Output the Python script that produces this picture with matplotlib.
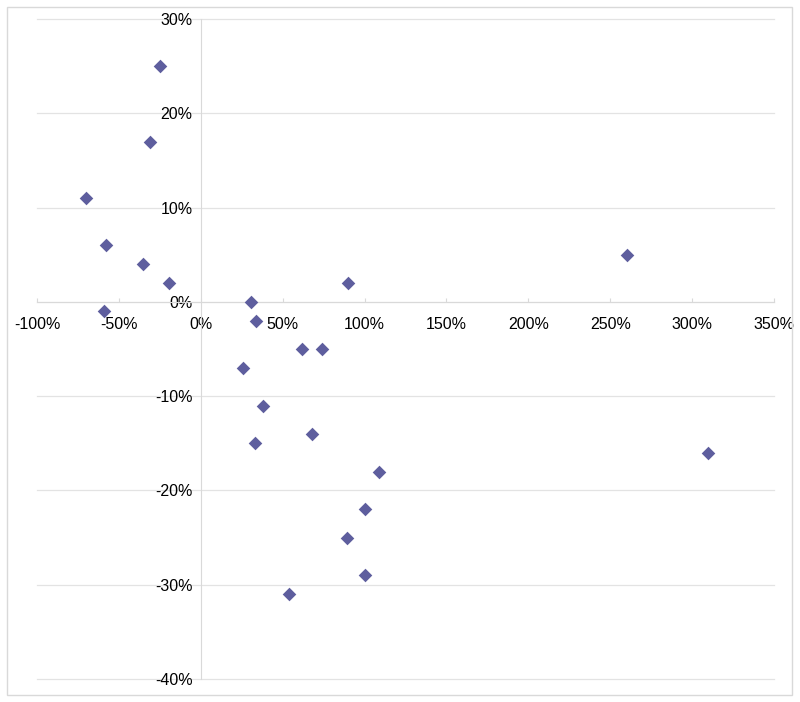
import matplotlib.pyplot as plt
from matplotlib.patches import Rectangle
from matplotlib.ticker import FuncFormatter

# x = change in one measure (%), y = change in the other (%)
x_pct = [-25, -31, -70, -58, -35, -19.5, -59, 30.5, 34, 90, 260,
         62, 74, 26, 38, 68, 33, 109, 310, 100, 89, 100, 54]
y_pct = [25, 17, 11, 6, 4, 2, -1, 0, -2, 2, 5,
         -5, -5, -7, -11, -14, -15, -18, -16, -22, -25, -29, -31]

x_ticks = [-100, -50, 0, 50, 100, 150, 200, 250, 300, 350]
y_ticks = [-40, -30, -20, -10, 0, 10, 20, 30]

plt.rcParams['font.family'] = ['Liberation Sans', 'DejaVu Sans']

fig = plt.figure(figsize=(8, 7.02), dpi=100)
ax = fig.add_axes([37 / 800, 1 - 679 / 702, (774 - 37) / 800, (679 - 19) / 702])

# chart border like an excel chart area
fig.patches.append(Rectangle((7 / 800, 7 / 702), 785 / 800, 688 / 702,
                             transform=fig.transFigure, fill=False,
                             edgecolor='#d9d9d9', linewidth=1))

ax.scatter(x_pct, y_pct, marker='D', s=48, color='#5e5e9e', zorder=3,
           linewidths=0)

ax.set_xlim(-100, 350)
ax.set_ylim(-40, 30)
ax.set_xticks(x_ticks)
ax.set_yticks(y_ticks)
pct = FuncFormatter(lambda v, p: '%d%%' % v)
ax.xaxis.set_major_formatter(pct)
ax.yaxis.set_major_formatter(pct)

# horizontal gridlines (drawn by hand so the -40% edge line shows too)
for yv in y_ticks:
    ax.axhline(yv, color='#e3e3e3', linewidth=0.9, zorder=0, clip_on=False)

for s in ['top', 'right']:
    ax.spines[s].set_visible(False)
ax.spines['left'].set_position(('data', 0))
ax.spines['bottom'].set_position(('data', 0))
ax.spines['left'].set_color('#d9d9d9')
ax.spines['bottom'].set_color('#d9d9d9')

ax.tick_params(axis='x', direction='in', length=3, color='#d9d9d9',
               labelsize=11.5, pad=11)
ax.tick_params(axis='y', length=0, labelsize=11.5, pad=6)

fig.savefig('out.png', dpi=100)
